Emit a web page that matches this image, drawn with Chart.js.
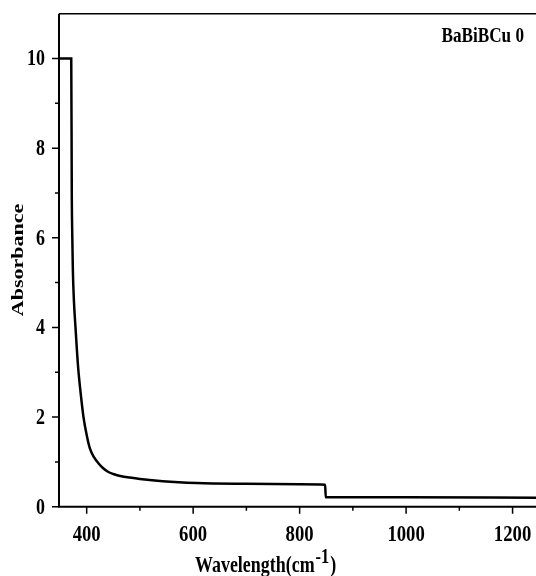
<!DOCTYPE html>
<html>
<head>
<meta charset="utf-8">
<script src="https://cdn.jsdelivr.net/npm/chart.js@4.4.0/dist/chart.umd.min.js"></script>
<style>
  html, body { margin: 0; padding: 0; background: #fff; overflow: hidden; }
  #wrap { width: 536px; height: 576px; position: relative; }
</style>
</head>
<body>
<div id="wrap"><canvas id="grafico"></canvas></div>
<script>
// valores
const comprimentos = [348, 371, 372, 373, 374, 376, 379, 384, 389, 394, 400, 406, 414, 422, 430, 440, 450, 465, 481, 500, 543, 606, 700, 800, 848, 849, 1000, 1244];
const absorbancia  = [10, 10, 7.0, 6.0, 5.3, 4.6, 4.0, 3.1, 2.5, 2.0, 1.6, 1.3, 1.1, 0.97, 0.87, 0.78, 0.73, 0.68, 0.65, 0.62, 0.57, 0.53, 0.51, 0.50, 0.49, 0.21, 0.21, 0.20];
const ticksX = [400, 600, 800, 1000, 1200];
const ticksXmenor = [500, 700, 900, 1100];
const ticksY = [0, 2, 4, 6, 8, 10];
const ticksYmenor = [1, 3, 5, 7, 9];
const titulo = 'BaBiBCu 0';

const FONTE = "'Liberation Serif', 'Times New Roman', serif";
const ESTREITO = 0.78; // o texto original aparece comprimido na horizontal

function texto(ctx, t, x, y, tam, alinhar, base) {
    ctx.save();
    ctx.translate(x, y);
    ctx.scale(ESTREITO, 1);
    ctx.font = 'bold ' + tam + 'px ' + FONTE;
    ctx.textAlign = alinhar;
    ctx.textBaseline = base;
    ctx.fillStyle = '#000';
    ctx.fillText(t, 0, 0);
    ctx.restore();
}

// desenha eixos, marcas e textos
const eixos = {
    id: 'eixos',
    afterDraw(chart) {
        const ctx = chart.ctx;
        const a = chart.chartArea;
        const sx = chart.scales.x, sy = chart.scales.y;
        ctx.save();
        ctx.strokeStyle = '#000';
        // borda superior
        ctx.lineWidth = 1.5;
        ctx.beginPath();
        ctx.moveTo(a.left, a.top);
        ctx.lineTo(a.right, a.top);
        ctx.stroke();
        // eixos
        ctx.lineWidth = 2;
        ctx.beginPath();
        ctx.moveTo(a.left, a.top);
        ctx.lineTo(a.left, a.bottom);
        ctx.lineTo(a.right, a.bottom);
        ctx.stroke();
        // marcas
        ctx.lineWidth = 1.5;
        ctx.beginPath();
        ticksX.forEach(v => { const p = sx.getPixelForValue(v); ctx.moveTo(p, a.bottom); ctx.lineTo(p, a.bottom + 7); });
        ticksXmenor.forEach(v => { const p = sx.getPixelForValue(v); ctx.moveTo(p, a.bottom); ctx.lineTo(p, a.bottom + 4); });
        ticksY.forEach(v => { const p = sy.getPixelForValue(v); ctx.moveTo(a.left, p); ctx.lineTo(a.left - 7, p); });
        ticksYmenor.forEach(v => { const p = sy.getPixelForValue(v); ctx.moveTo(a.left, p); ctx.lineTo(a.left - 4, p); });
        ctx.stroke();
        ctx.restore();

        ticksX.forEach(v => texto(ctx, String(v), sx.getPixelForValue(v), 541, 24, 'center', 'alphabetic'));
        ticksY.forEach(v => texto(ctx, String(v), 45, sy.getPixelForValue(v) + 1, 23, 'right', 'middle'));

        texto(ctx, titulo, 524, 42, 22, 'right', 'alphabetic');

        // título do eixo x com expoente
        ctx.save();
        ctx.font = 'bold 23px ' + FONTE;
        const w1 = ctx.measureText('Wavelength(cm').width * ESTREITO;
        ctx.font = 'bold 21px ' + FONTE;
        const w2 = ctx.measureText('-1').width * ESTREITO;
        ctx.restore();
        texto(ctx, 'Wavelength(cm', 195, 572, 23, 'left', 'alphabetic');
        texto(ctx, '-1', 195 + w1 + 1, 563, 21, 'left', 'alphabetic');
        texto(ctx, ')', 195 + w1 + w2 + 2, 572, 23, 'left', 'alphabetic');

        // título do eixo y (rodado)
        ctx.save();
        ctx.translate(18.5, 260);
        ctx.scale(ESTREITO, 1);
        ctx.rotate(-Math.PI / 2);
        ctx.font = 'bold 22px ' + FONTE;
        ctx.textAlign = 'center';
        ctx.textBaseline = 'middle';
        ctx.fillStyle = '#000';
        ctx.fillText('Absorbance', 0, 0);
        ctx.restore();
    }
};

document.addEventListener('DOMContentLoaded', () => {
    const ctxGrafico = document.getElementById('grafico');

    const pontos = comprimentos.map((x, i) => ({ x: x, y: absorbancia[i] }));

    new Chart(ctxGrafico, {
        type: 'line',
        data: {
            datasets: [{
                data: pontos,
                borderColor: '#000',
                borderWidth: 2.5,
                pointRadius: 0,
                cubicInterpolationMode: 'monotone',
                fill: false
            }]
        },
        options: {
            responsive: true,
            maintainAspectRatio: false,
            animation: false,
            layout: { padding: { left: 59, top: 13.7, right: 0, bottom: 69.3 } },
            plugins: {
                legend: { display: false },
                tooltip: { enabled: false }
            },
            scales: {
                x: { type: 'linear', min: 348, max: 1244, display: false },
                y: { min: 0, max: 11, display: false }
            }
        },
        plugins: [eixos]
    });
});
</script>
</body>
</html>
